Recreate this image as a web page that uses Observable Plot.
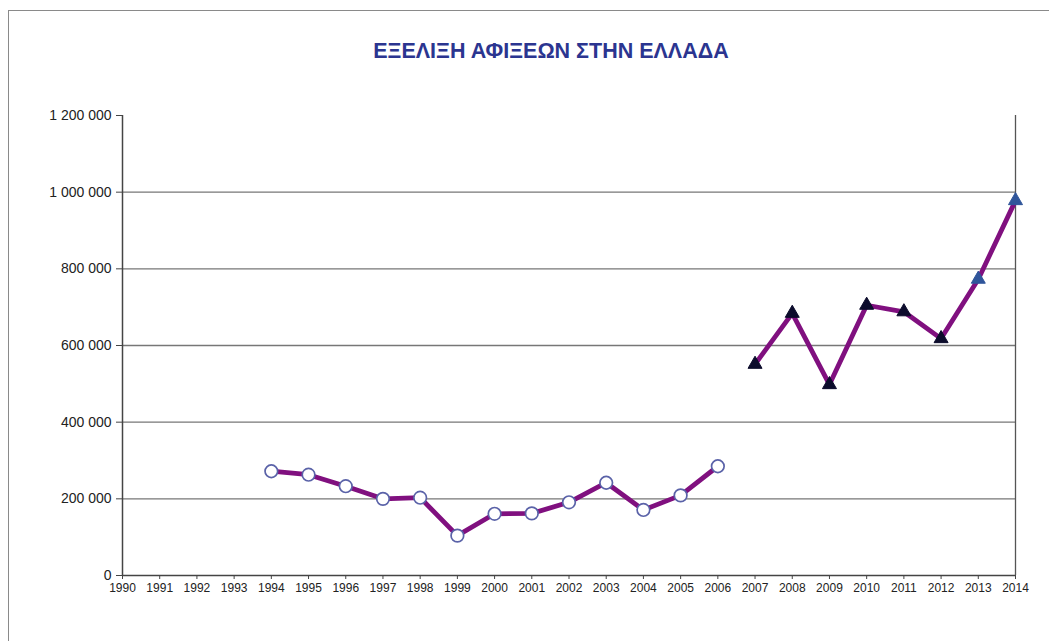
<!DOCTYPE html>
<html><head><meta charset="utf-8">
<script src="https://cdn.jsdelivr.net/npm/d3@7"></script>
<script src="https://cdn.jsdelivr.net/npm/@observablehq/plot@0.6"></script>
<style>
html,body{margin:0;padding:0;overflow:hidden;background:#fff;width:1049px;height:641px;}
#frame{position:absolute;left:8px;top:10px;width:1100px;height:700px;border:1px solid #8a8a8a;}
#title{position:absolute;left:0;width:1102px;top:41px;text-align:center;font:bold 21.5px "Liberation Sans",Arial,sans-serif;color:#2b3590;line-height:1;white-space:nowrap;}
#chart{position:absolute;left:0;top:0;}
</style></head><body>
<div id="frame"></div>
<div id="title">ΕΞΕΛΙΞΗ ΑΦΙΞΕΩΝ ΣΤΗΝ ΕΛΛΑΔΑ</div>
<div id="chart"></div>
<script>
const yearTicks = [1990,1991,1992,1993,1994,1995,1996,1997,1998,1999,2000,2001,2002,2003,2004,2005,2006,2007,2008,2009,2010,2011,2012,2013,2014];
const yTicks = [0,200000,400000,600000,800000,1000000,1200000];
const years1 = [1994,1995,1996,1997,1998,1999,2000,2001,2002,2003,2004,2005,2006];
const values1 = [272000,263000,233000,200000,203000,104000,161000,162000,191000,242000,171000,209000,285000];
const years2 = [2007,2008,2009,2010,2011,2012,2013,2014];
const values2 = [551000,684000,498000,705000,688000,618000,773000,978000];

const yFmt = d => d3.format(",")(d).replace(/,/g, " ");
const s1 = years1.map((y, i) => ({year: y, value: values1[i]}));
const s2 = years2.map((y, i) => ({year: y, value: values2[i]}));

const chart = Plot.plot({
  width: 1049, height: 641,
  marginLeft: 122, marginRight: 34, marginTop: 115, marginBottom: 66,
  style: {fontFamily: '"Liberation Sans", Arial, sans-serif', background: "transparent", color: "#222"},
  x: {type: "linear", domain: [1990, 2014], label: null},
  y: {domain: [0, 1200000], label: null},
  marks: [
    Plot.ruleY(yTicks.filter(v => v > 0 && v < 1200000), {stroke: "#777", strokeWidth: 1.4}),
    Plot.ruleX([2014], {stroke: "#555", strokeWidth: 1.3}),
    Plot.axisY({ticks: yTicks, tickFormat: yFmt, tickSize: 6, tickPadding: 5, fontSize: 14, stroke: "#444", fill: "#222", label: null}),
    Plot.axisX({ticks: yearTicks, tickFormat: d => String(d), tickSize: 4, tickPadding: 4, fontSize: 12, stroke: "#444", fill: "#222", label: null}),
    Plot.ruleY([0], {stroke: "#444", strokeWidth: 1.5}),
    Plot.ruleX([1990], {stroke: "#444", strokeWidth: 1.5}),
    Plot.line(s1, {x: "year", y: "value", stroke: "#80107f", strokeWidth: 4.8}),
    Plot.line(s2, {x: "year", y: "value", stroke: "#80107f", strokeWidth: 4.8}),
    Plot.dot(s1, {x: "year", y: "value", r: 6.3, fill: "white", stroke: "#5a62a8", strokeWidth: 1.7}),
    Plot.dot(s2, {x: "year", y: "value", symbol: "triangle", r: 5.2, fill: d => d.year >= 2013 ? "#2f559a" : "#0c0c2c", stroke: d => d.year >= 2013 ? "#2f559a" : "#0c0c2c", strokeWidth: 1})
  ]
});
document.getElementById("chart").appendChild(chart);
</script>
</body></html>
